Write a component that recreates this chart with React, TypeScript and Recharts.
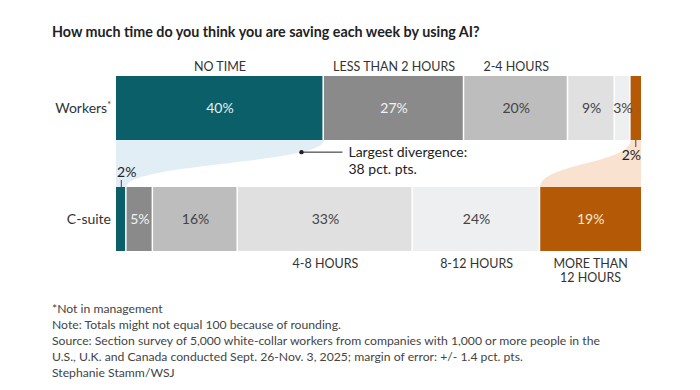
import React from 'react';
import { BarChart, Bar, XAxis, YAxis } from 'recharts';

const categories = ['Workers', 'C-suite'];
const seriesKeys = ['noTime', 'lt2', 'h2to4', 'h4to8', 'h8to12', 'gt12'];
const seriesLabels = [['NO TIME'], ['LESS THAN 2 HOURS'], ['2-4 HOURS'], ['4-8 HOURS'], ['8-12 HOURS'], ['MORE THAN', '12 HOURS']];
const headerRow = [0, 0, 0, 1, 1, 1];
const workersValues = [40, 27, 20, 9, 3, 2];
const csuiteValues = [2, 5, 16, 33, 24, 19];
const rows = [workersValues, csuiteValues];

const title = 'How much time do you think you are saving each week by using AI?';
const annotationLines = ['Largest divergence:', '38 pct. pts.'];
const footnotes = [
  '*Not in management',
  'Note: Totals might not equal 100 because of rounding.',
  'Source: Section survey of 5,000 white-collar workers from companies with 1,000 or more people in the',
  'U.S., U.K. and Canada conducted Sept. 26-Nov. 3, 2025; margin of error: +/- 1.4 pct. pts.',
  'Stephanie Stamm/WSJ',
];

const seriesColors = ['#0b5f69', '#8a8a8a', '#bdbdbd', '#e0e0e0', '#eeeff1', '#b45a07'];
const labelColors = ['#e3eff0', '#f2f2f2', '#444', '#444', '#444', '#fbe7d6'];
const ribbonColors: Record<number, string> = { 0: '#e2eef5', 5: '#f9e2d0' };

const FONT = 'Lato, "Noto Sans", sans-serif';
const CHART_W = 700;
const CHART_H = 300;
const MARGIN = { top: 52, right: 59, bottom: 26, left: 0 };
const BAND = (CHART_H - MARGIN.top - MARGIN.bottom) / categories.length;
const LAST = seriesKeys.length - 1;

const data = categories.map((name, r) => {
  const o: any = { name };
  seriesKeys.forEach((k, i) => (o[k] = rows[r][i]));
  return o;
});

const sum = (a: number[]) => a.reduce((p, c) => p + c, 0);

function plotFrame(props: any, s: number) {
  const { x, width, background, index } = props;
  if (background && background.width) return { left: background.x, plotW: background.width };
  const vals = rows[index];
  const total = sum(vals);
  const plotW = width / (vals[s] / total);
  const left = x - (sum(vals.slice(0, s)) / total) * plotW;
  return { left, plotW };
}

function segsFor(r: number, left: number, plotW: number) {
  const vals = rows[r];
  const total = sum(vals);
  return vals.map((v, i) => {
    const x0 = left + (sum(vals.slice(0, i)) / total) * plotW;
    return { x0, w: (v / total) * plotW, v };
  });
}

function bez(p0: number[], p1: number[], p2: number[], p3: number[], t: number) {
  const a = (1 - t) ** 3, b = 3 * t * (1 - t) ** 2, c = 3 * t * t * (1 - t), d = t ** 3;
  return [a * p0[0] + b * p1[0] + c * p2[0] + d * p3[0], a * p0[1] + b * p1[1] + c * p2[1] + d * p3[1]];
}

const Segment = (props: any) => {
  const { x, y, width, height, index, s } = props;
  const { left, plotW } = plotFrame(props, s);
  const els: any[] = [];

  if (s === 0 && index === 0) {
    const w = segsFor(0, left, plotW);
    const c = segsFor(1, left, plotW);
    const yb = y + height;
    const yt = y + BAND;
    const ym = (yb + yt) / 2;
    Object.keys(ribbonColors).forEach((k) => {
      const i = Number(k);
      if (i === 0) {
        const ax = w[0].x0 + w[0].w, cx = c[0].x0 + c[0].w;
        els.push(<path key={'rb' + i} d={`M${left},${yb} L${ax},${yb} C${ax},${ym} ${cx},${ym} ${cx},${yt} L${left},${yt} Z`} fill={ribbonColors[i]} />);
        const p = bez([ax, yb], [ax, ym], [cx, ym], [cx, yt], 0.21);
        els.push(<circle key="dot" cx={p[0]} cy={p[1]} r={2.2} fill="#222" />);
        els.push(<line key="dl" x1={p[0]} y1={p[1]} x2={p[0] + 41} y2={p[1]} stroke="#222" strokeWidth={1} />);
        annotationLines.forEach((t, j) =>
          els.push(<text key={'an' + j} x={p[0] + 47} y={p[1] + 5 + j * 17} fontSize={14} fill="#222" fontFamily={FONT}>{t}</text>)
        );
      } else {
        const right = left + plotW;
        const ax = w[i].x0, cx = c[i].x0;
        els.push(<path key={'rb' + i} d={`M${ax},${yb} L${right},${yb} L${right},${yt} L${cx},${yt} C${cx},${ym} ${ax},${ym} ${ax},${yb} Z`} fill={ribbonColors[i]} />);
      }
    });
  }

  const gap = s === LAST ? 0 : 1.5;
  els.push(<rect key="r" x={x} y={y} width={Math.max(0, width - gap)} height={height} fill={seriesColors[s]} />);

  if (s === LAST) {
    const segs = segsFor(index, left, plotW);
    const cy = y + height / 2;
    segs.forEach((sg, i) => {
      const cx = sg.x0 + sg.w / 2;
      if (sg.v >= 3) {
        els.push(<text key={'v' + i} x={cx} y={cy + 5} textAnchor="middle" fontSize={14} fill={labelColors[i]} fontFamily={FONT}>{sg.v}%</text>);
      } else if (index === 0) {
        els.push(<line key={'t' + i} x1={cx} x2={cx} y1={y + height} y2={y + height + 7} stroke="#444" strokeWidth={1} />);
        els.push(<text key={'v' + i} x={sg.x0 + sg.w} y={y + height + 20} textAnchor="end" fontSize={14} fill="#222" fontFamily={FONT}>{sg.v}%</text>);
      } else {
        els.push(<line key={'t' + i} x1={cx} x2={cx} y1={y - 7} y2={y} stroke="#444" strokeWidth={1} />);
        els.push(<text key={'v' + i} x={sg.x0 + 1} y={y - 10} textAnchor="start" fontSize={14} fill="#222" fontFamily={FONT}>{sg.v}%</text>);
      }
      if (headerRow[i] === index) {
        seriesLabels[i].forEach((ln, j) => {
          const ty = index === 0 ? y - 5 - (seriesLabels[i].length - 1 - j) * 14 : y + height + 17 + j * 14;
          els.push(<text key={'h' + i + '_' + j} x={cx} y={ty} textAnchor="middle" fontSize={12.5} fill="#333" fontFamily={FONT}>{ln}</text>);
        });
      }
    });
  }
  return <g>{els}</g>;
};

const YTick = (props: any) => {
  const { x, y, payload } = props;
  return (
    <text x={x} y={y + 5} textAnchor="end" fontSize={14} fill="#333" fontFamily={FONT}>
      {payload.value}
      {payload.value === 'Workers' ? <tspan fontSize={9} dy={-5}>*</tspan> : null}
    </text>
  );
};

export default function App() {
  return (
    <div style={{ position: 'relative', width: 700, height: 390, background: '#fff', fontFamily: FONT }}>
      <style>{`body{margin:0}`}</style>
      <div style={{ position: 'absolute', left: 52, top: 23, fontSize: 14.3, fontWeight: 700, color: '#222', lineHeight: '18px', whiteSpace: 'nowrap' }}>
        {title}
      </div>
      <div style={{ position: 'absolute', left: 0, top: 0 }}>
        <BarChart width={CHART_W} height={CHART_H} data={data} layout="vertical" stackOffset="expand" margin={MARGIN} barSize={64}>
          <XAxis type="number" hide domain={[0, 1]} />
          <YAxis type="category" dataKey="name" width={116} axisLine={false} tickLine={false} tickSize={0} tickMargin={5} tick={<YTick />} />
          {seriesKeys.map((k, i) => (
            <Bar key={k} dataKey={k} stackId="a" isAnimationActive={false} shape={(p: any) => <Segment {...p} s={i} />} />
          ))}
        </BarChart>
      </div>
      <div style={{ position: 'absolute', left: 52, top: 301, fontSize: 12.2, lineHeight: '16px', color: '#444', whiteSpace: 'nowrap' }}>
        {footnotes.map((f, i) => (
          <div key={i}>{f}</div>
        ))}
      </div>
    </div>
  );
}
